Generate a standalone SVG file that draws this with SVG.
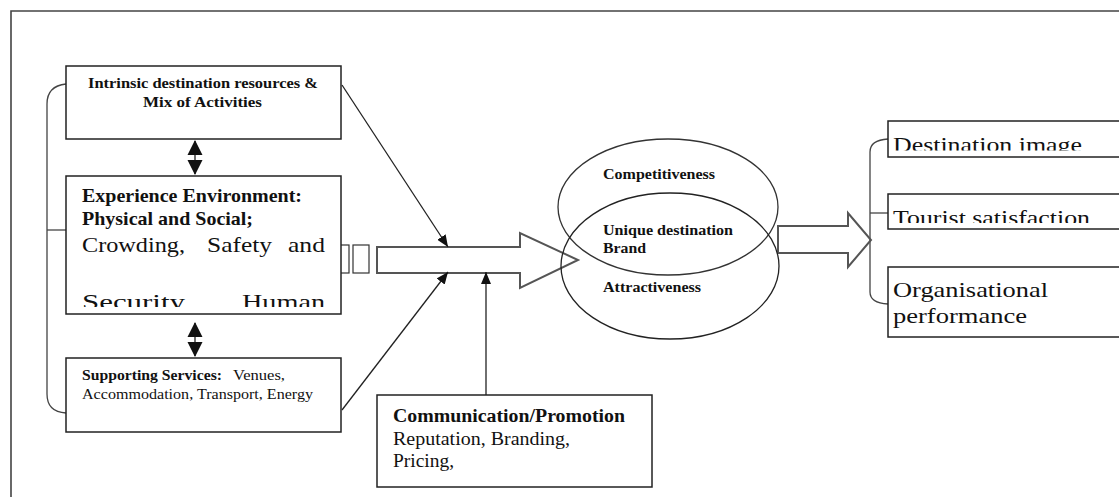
<svg xmlns="http://www.w3.org/2000/svg" width="1119" height="497" viewBox="0 0 1119 497">
<style>
.box{fill:#fff;stroke:#222;stroke-width:1.5}
.ln{fill:none;stroke:#222;stroke-width:1.3}
.br{fill:none;stroke:#444;stroke-width:1.3}
.big{fill:none;stroke:#555;stroke-width:2}
.t{font-family:"Liberation Serif","Times New Roman",serif;fill:#111}
.b{font-weight:bold}
.tri{fill:#111}
</style>
<defs>
<marker id="ah" viewBox="0 0 12 10" refX="12" refY="5" markerWidth="12" markerHeight="10" markerUnits="userSpaceOnUse" orient="auto">
<path d="M0,0 L12,5 L0,10 Z" fill="#111"/>
</marker>
<clipPath id="c2"><rect x="66" y="176" width="275" height="131"/></clipPath>
<clipPath id="cr1"><rect x="888" y="121" width="231" height="29.5"/></clipPath>
<clipPath id="cr2"><rect x="888" y="194" width="231" height="29"/></clipPath>
</defs>
<g id="frame">
<path d="M11,497 L11,11 L1119,11" fill="none" stroke="#444" stroke-width="1.6"/>
</g>
<g id="connectors">
<path class="br" d="M66,84 Q47,86 47,104 L47,394 Q47,412 66,413"/>
<path class="br" d="M47,230 L66,230"/>
<path class="br" d="M888,139 Q870,140 870,152 L870,292 Q870,303 888,304"/>
<path class="br" d="M870,213 L888,213"/>
<path class="ln" d="M195,141 L195,174"/>
<path class="tri" d="M195,140 L187.5,155 L202.5,155 Z M187.5,160 L202.5,160 L195,175 Z"/>
<path class="ln" d="M195,323 L195,356"/>
<path class="tri" d="M195,322 L187.5,337 L202.5,337 Z M187.5,342 L202.5,342 L195,357 Z"/>
<rect x="339" y="245" width="10" height="28" fill="#fff" stroke="#333" stroke-width="1.2"/>
<rect x="353" y="245" width="16" height="28" fill="#fff" stroke="#333" stroke-width="1.2"/>
<path class="big" d="M377,247 L520,247 L520,233 L578,260 L520,288 L520,273 L377,273 Z"/>
<path class="big" d="M778,226 L848,226 L848,213 L871,240 L848,267 L848,253 L778,253 Z"/>
<path class="ln" d="M342,85 L448,247" marker-end="url(#ah)"/>
<path class="ln" d="M342,410 L448,272" marker-end="url(#ah)"/>
<path class="ln" d="M486,395 L486,272" marker-end="url(#ah)"/>
</g>
<g id="brand">
<ellipse cx="668" cy="207" rx="110" ry="68" fill="none" stroke="#333" stroke-width="1.3"/>
<ellipse cx="670" cy="266" rx="109" ry="73" fill="none" stroke="#222" stroke-width="1.3"/>
<text class="t b" x="603" y="179" font-size="14" textLength="112" lengthAdjust="spacingAndGlyphs">Competitiveness</text>
<text class="t b" x="603" y="235" font-size="14" textLength="130" lengthAdjust="spacingAndGlyphs">Unique destination</text>
<text class="t b" x="603" y="253" font-size="14" textLength="43" lengthAdjust="spacingAndGlyphs">Brand</text>
<text class="t b" x="603" y="292" font-size="14" textLength="98" lengthAdjust="spacingAndGlyphs">Attractiveness</text>
</g>
<g id="intrinsic">
<rect class="box" x="66" y="66" width="275" height="73"/>
<text class="t b" x="88" y="88" font-size="14" textLength="230" lengthAdjust="spacingAndGlyphs">Intrinsic destination resources  &amp;</text>
<text class="t b" x="143" y="107" font-size="14" textLength="119" lengthAdjust="spacingAndGlyphs">Mix of  Activities</text>
</g>
<g id="experience">
<rect class="box" x="66" y="176" width="275" height="138"/>
<g clip-path="url(#c2)">
<text class="t b" x="82" y="202" font-size="19" textLength="220" lengthAdjust="spacingAndGlyphs">Experience Environment:</text>
<text class="t b" x="82" y="225" font-size="19" textLength="171" lengthAdjust="spacingAndGlyphs">Physical and Social;</text>
<text class="t" x="82" y="252" font-size="21" textLength="103" lengthAdjust="spacingAndGlyphs">Crowding,</text>
<text class="t" x="207" y="252" font-size="21" textLength="65" lengthAdjust="spacingAndGlyphs">Safety</text>
<text class="t" x="288" y="252" font-size="21" textLength="37" lengthAdjust="spacingAndGlyphs">and</text>
<text class="t" x="82" y="309" font-size="21" textLength="103" lengthAdjust="spacingAndGlyphs">Security</text>
<text class="t" x="242" y="309" font-size="21" textLength="83" lengthAdjust="spacingAndGlyphs">Human</text>
</g>
</g>
<g id="supporting">
<rect class="box" x="66" y="358" width="275" height="74"/>
<text class="t b" x="82" y="380" font-size="14" textLength="140" lengthAdjust="spacingAndGlyphs">Supporting Services:</text>
<text class="t" x="233" y="380" font-size="14" textLength="52" lengthAdjust="spacingAndGlyphs">Venues,</text>
<text class="t" x="82" y="399" font-size="14" textLength="231" lengthAdjust="spacingAndGlyphs">Accommodation, Transport, Energy</text>
</g>
<g id="communication">
<rect class="box" x="377" y="395" width="275" height="92"/>
<text class="t b" x="393" y="422" font-size="18" textLength="232" lengthAdjust="spacingAndGlyphs">Communication/Promotion</text>
<text class="t" x="393" y="445" font-size="18" textLength="177" lengthAdjust="spacingAndGlyphs">Reputation, Branding,</text>
<text class="t" x="393" y="467" font-size="18" textLength="61" lengthAdjust="spacingAndGlyphs">Pricing,</text>
</g>
<g id="image">
<rect class="box" x="888" y="121" width="240" height="36"/>
<text class="t" x="893" y="152" font-size="22" textLength="189" lengthAdjust="spacingAndGlyphs" clip-path="url(#cr1)">Destination image</text>
</g>
<g id="satisfaction">
<rect class="box" x="888" y="194" width="240" height="35"/>
<text class="t" x="893" y="225" font-size="22" textLength="197" lengthAdjust="spacingAndGlyphs" clip-path="url(#cr2)">Tourist satisfaction</text>
</g>
<g id="performance">
<rect class="box" x="888" y="267" width="240" height="70"/>
<text class="t" x="893" y="297" font-size="22" textLength="155" lengthAdjust="spacingAndGlyphs">Organisational</text>
<text class="t" x="893" y="323" font-size="22" textLength="134" lengthAdjust="spacingAndGlyphs">performance</text>
</g>
</svg>
